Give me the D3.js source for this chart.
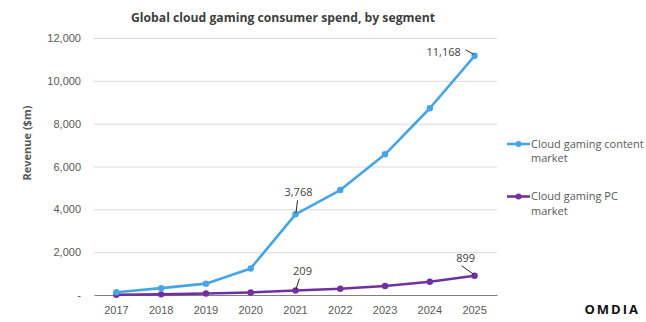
<!DOCTYPE html>
<html>
<head>
<meta charset="utf-8">
<script src="https://cdn.jsdelivr.net/npm/d3@7"></script>
<style>
  html, body { margin: 0; padding: 0; background: #fff; }
  svg { display: block; font-family: "Open Sans", "Noto Sans", sans-serif; }
</style>
</head>
<body>
<div id="chart"></div>
<script>
// Data
const years = ["2017", "2018", "2019", "2020", "2021", "2022", "2023", "2024", "2025"];
const contentMarket = [130, 320, 530, 1240, 3768, 4900, 6570, 8720, 11168];
const pcMarket = [10, 30, 70, 120, 209, 290, 420, 620, 899];
const yTicks = [0, 2000, 4000, 6000, 8000, 10000, 12000];

const width = 646;
const height = 322;
const plot = { left: 94, right: 497, top: 38, bottom: 295 };

const blue = "#45a5e6";
const purple = "#7030a0";
const textColor = "#595959";

const svg = d3.select("#chart")
  .append("svg")
  .attr("width", width)
  .attr("height", height);

// Scales
const xScale = d3.scaleBand()
  .domain(years)
  .range([plot.left, plot.right]);

const yScale = d3.scaleLinear()
  .domain([0, 12000])
  .range([plot.bottom, plot.top]);

const xPos = (d) => xScale(d) + xScale.bandwidth() / 2;

// Title
svg.append("text")
  .attr("x", 283)
  .attr("y", 22)
  .attr("text-anchor", "middle")
  .style("font-size", "12.2px")
  .style("font-weight", "bold")
  .style("fill", "#404040")
  .text("Global cloud gaming consumer spend, by segment");

// Gridlines + y axis
const yAxis = d3.axisLeft(yScale)
  .tickValues(yTicks)
  .tickSize(-(plot.right - plot.left))
  .tickPadding(13)
  .tickFormat((d) => (d === 0 ? "-" : d3.format(",")(d)));

const yG = svg.append("g")
  .attr("transform", "translate(" + plot.left + ",0)")
  .call(yAxis);
yG.select(".domain").remove();
yG.selectAll(".tick line").attr("stroke", "#d9d9d9");
yG.selectAll(".tick text")
  .style("font-size", "11px")
  .style("fill", textColor);

// X axis
const xAxis = d3.axisBottom(xScale).tickSize(0).tickPadding(11);
const xG = svg.append("g")
  .attr("transform", "translate(0," + plot.bottom + ")")
  .call(xAxis);
xG.select(".domain").attr("stroke", "#7f7f7f").attr("stroke-width", 1.2);
xG.selectAll(".tick text")
  .style("font-size", "11px")
  .style("fill", textColor);

// Y axis title
svg.append("text")
  .attr("transform", "translate(31,143) rotate(-90)")
  .attr("text-anchor", "middle")
  .style("font-size", "11px")
  .style("font-weight", "bold")
  .style("fill", textColor)
  .text("Revenue ($m)");

// Series
const series = [
  { name: ["Cloud gaming content", "market"], values: contentMarket, color: blue },
  { name: ["Cloud gaming PC", "market"], values: pcMarket, color: purple },
];

const line = d3.line()
  .x((d, i) => xPos(years[i]))
  .y((d) => yScale(d));

series.slice().reverse().forEach((s) => {
  svg.append("path")
    .datum(s.values)
    .attr("fill", "none")
    .attr("stroke", s.color)
    .attr("stroke-width", 2.6)
    .attr("stroke-linejoin", "round")
    .attr("d", line);

  svg.selectAll(null)
    .data(s.values)
    .enter()
    .append("circle")
    .attr("cx", (d, i) => xPos(years[i]))
    .attr("cy", (d) => yScale(d))
    .attr("r", 3.2)
    .attr("fill", s.color);
});

// Data labels with leader lines
const labels = [
  { values: contentMarket, i: 8, dx: -31, dy: -4, lx: -9, ly: -6 },
  { values: contentMarket, i: 4, dx: 3, dy: -22, lx: 2, ly: -14 },
  { values: pcMarket, i: 4, dx: 7, dy: -19, lx: 4, ly: -12 },
  { values: pcMarket, i: 8, dx: -9, dy: -18, lx: -13, ly: -10 },
];

labels.forEach((l) => {
  const v = l.values[l.i];
  const px = xPos(years[l.i]);
  const py = yScale(v);
  svg.append("text")
    .attr("x", px + l.dx)
    .attr("y", py + l.dy)
    .attr("text-anchor", "middle")
    .attr("dy", "0.35em")
    .style("font-size", "11px")
    .style("fill", "#404040")
    .text(d3.format(",")(v));
  svg.append("line")
    .attr("x1", px + l.lx)
    .attr("y1", py + l.ly)
    .attr("x2", px - (l.lx > 0 ? -0.5 : 1))
    .attr("y2", py - 1.5)
    .attr("stroke", "#262626")
    .attr("stroke-width", 1);
});

// Legend
const legend = svg.append("g").attr("transform", "translate(507,144)");
series.forEach((s, k) => {
  const g = legend.append("g").attr("transform", "translate(0," + k * 52.5 + ")");
  g.append("line")
    .attr("x1", 0).attr("x2", 23)
    .attr("stroke", s.color)
    .attr("stroke-width", 2.6);
  g.append("circle").attr("cx", 11.5).attr("r", 3).attr("fill", s.color);
  s.name.forEach((t, j) => {
    g.append("text")
      .attr("x", 24)
      .attr("y", j * 14.5)
      .attr("dy", "0.35em")
      .style("font-size", "11px")
      .style("fill", textColor)
      .text(t);
  });
});

// Logo
svg.append("text")
  .attr("x", 640)
  .attr("y", 314)
  .attr("text-anchor", "end")
  .style("font-size", "13px")
  .style("font-weight", "bold")
  .style("letter-spacing", "2px")
  .style("fill", "#111")
  .text("OMDIA");
</script>
</body>
</html>
